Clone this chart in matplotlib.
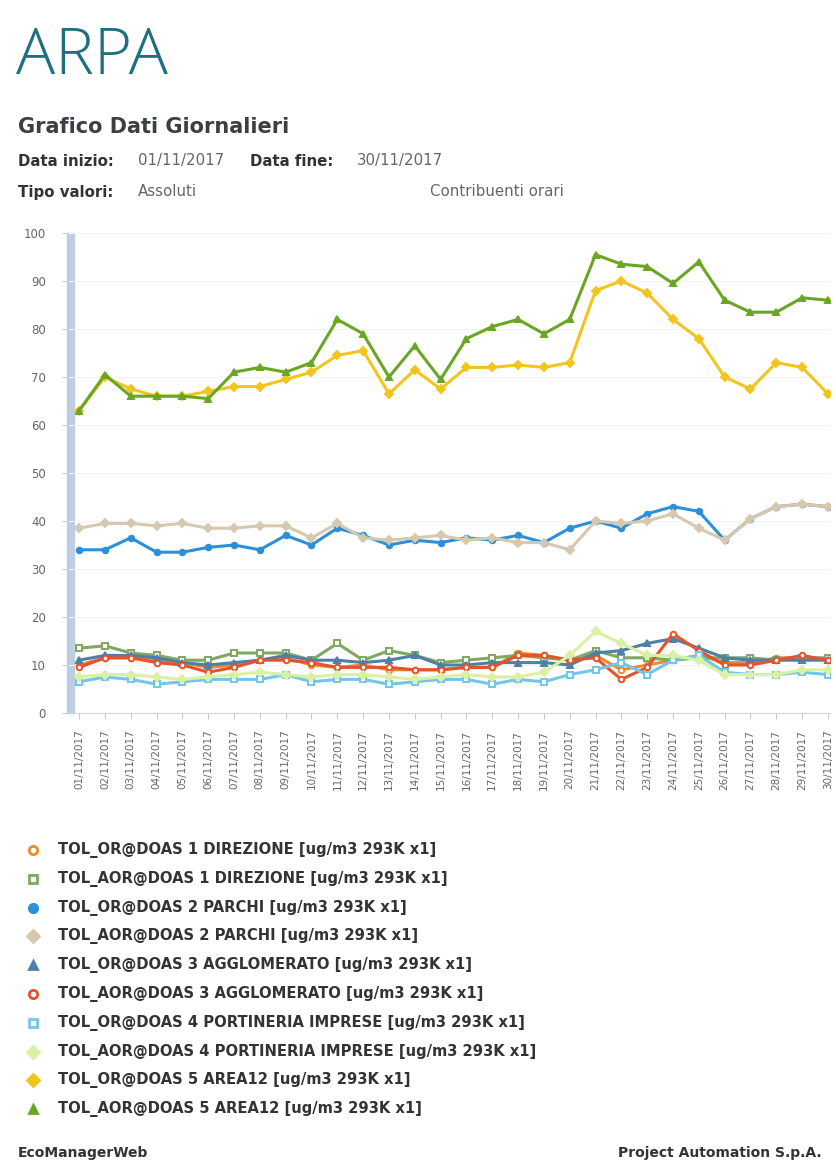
import matplotlib
matplotlib.use("Agg")
import matplotlib.pyplot as plt
from matplotlib.patches import Rectangle

##############################################################################
# Daily values (ug/m3), 01/11/2017 .. 30/11/2017
days = ["%02d/11/2017" % d for d in range(1, 31)]

or_doas1 = [10, 11.5, 11.5, 11, 10.5, 9.5, 10, 11, 11.5, 10, 9.5, 10, 9, 9, 9,
            9.5, 9.5, 12.5, 12, 11, 12, 9, 10, 11, 12, 10.5, 10.5, 11.5, 11.5, 11]
aor_doas1 = [13.5, 14, 12.5, 12, 11, 11, 12.5, 12.5, 12.5, 11, 14.5, 11, 13, 12, 10.5,
             11, 11.5, 12, 11.5, 11, 13, 11.5, 11.5, 11, 11.5, 11.5, 11.5, 11, 11.5, 11.5]
or_doas2 = [34, 34, 36.5, 33.5, 33.5, 34.5, 35, 34, 37, 35, 38.5, 37, 35, 36, 35.5,
            36.5, 36, 37, 35.5, 38.5, 40, 38.5, 41.5, 43, 42, 36, 40.5, 43, 43.5, 43]
aor_doas2 = [38.5, 39.5, 39.5, 39, 39.5, 38.5, 38.5, 39, 39, 36.5, 39.5, 36.5, 36, 36.5, 37,
             36, 36.5, 35.5, 35.5, 34, 40, 39.5, 40, 41.5, 38.5, 36, 40.5, 43, 43.5, 43]
or_doas3 = [11, 12, 12, 11.5, 10.5, 10, 10.5, 11, 12, 11, 11, 10.5, 11, 12, 10,
            10, 10.5, 10.5, 10.5, 10, 12.5, 13, 14.5, 15.5, 13.5, 11.5, 11, 11, 11, 11]
aor_doas3 = [9.5, 11.5, 11.5, 10.5, 10, 8.5, 9.5, 11, 11, 10.5, 9.5, 9.5, 9.5, 9, 9,
             9.5, 9.5, 12, 12, 11, 11.5, 7, 9.5, 16.5, 13, 10, 10, 11, 12, 11]
or_doas4 = [6.5, 7.5, 7, 6, 6.5, 7, 7, 7, 8, 6.5, 7, 7, 6, 6.5, 7,
            7, 6, 7, 6.5, 8, 9, 10.5, 8, 11, 12, 8.5, 8, 8, 8.5, 8]
aor_doas4 = [7.5, 8, 8, 7.5, 7, 7.5, 8, 8.5, 8, 7.5, 8, 8, 7.5, 7, 7.5,
             8, 7.5, 7.5, 8.5, 12, 17, 14.5, 12, 12, 11, 8, 8, 8, 9, 9]
or_doas5 = [63, 70, 67.5, 66, 66, 67, 68, 68, 69.5, 71, 74.5, 75.5, 66.5, 71.5, 67.5,
            72, 72, 72.5, 72, 73, 88, 90, 87.5, 82, 78, 70, 67.5, 73, 72, 66.5]
aor_doas5 = [63, 70.5, 66, 66, 66, 65.5, 71, 72, 71, 73, 82, 79, 70, 76.5, 69.5,
             78, 80.5, 82, 79, 82, 95.5, 93.5, 93, 89.5, 94, 86, 83.5, 83.5, 86.5, 86]

labels = [
    "TOL_OR@DOAS 1 DIREZIONE [ug/m3 293K x1]",
    "TOL_AOR@DOAS 1 DIREZIONE [ug/m3 293K x1]",
    "TOL_OR@DOAS 2 PARCHI [ug/m3 293K x1]",
    "TOL_AOR@DOAS 2 PARCHI [ug/m3 293K x1]",
    "TOL_OR@DOAS 3 AGGLOMERATO [ug/m3 293K x1]",
    "TOL_AOR@DOAS 3 AGGLOMERATO [ug/m3 293K x1]",
    "TOL_OR@DOAS 4 PORTINERIA IMPRESE [ug/m3 293K x1]",
    "TOL_AOR@DOAS 4 PORTINERIA IMPRESE [ug/m3 293K x1]",
    "TOL_OR@DOAS 5 AREA12 [ug/m3 293K x1]",
    "TOL_AOR@DOAS 5 AREA12 [ug/m3 293K x1]",
]
series = [or_doas1, aor_doas1, or_doas2, aor_doas2, or_doas3,
          aor_doas3, or_doas4, aor_doas4, or_doas5, aor_doas5]

colors = ["#ec8a30", "#7fa860", "#2c90d8", "#d6c8ae", "#4c80aa",
          "#e4532e", "#72c6ea", "#daf0a2", "#f2c51e", "#6aa624"]
markers = ["o", "s", "o", "D", "^", "o", "s", "D", "D", "^"]
hollow = [True, True, False, False, False, True, True, False, False, False]

##############################################################################
fig = plt.figure(figsize=(8.37, 11.66), dpi=100)
fig.patch.set_facecolor("white")

W, H = 837.0, 1166.0

def ftext(x, y, s, **kw):
    fig.text(x / W, 1 - y / H, s, **kw)

# header
ftext(16, 57, "ARPA", fontsize=47, color="#1f6f7f", family="Open Sans",
      fontweight="light", va="center")
ftext(18, 127, "Grafico Dati Giornalieri", fontsize=15, fontweight="bold",
      color="#3a3f44", va="center")
hs = 10.8
ftext(18, 161, "Data inizio:", fontsize=hs, fontweight="bold", color="#333", va="center")
ftext(138, 161, "01/11/2017", fontsize=hs, color="#666", va="center")
ftext(250, 161, "Data fine:", fontsize=hs, fontweight="bold", color="#333", va="center")
ftext(357, 161, "30/11/2017", fontsize=hs, color="#666", va="center")
ftext(18, 192, "Tipo valori:", fontsize=hs, fontweight="bold", color="#333", va="center")
ftext(138, 192, "Assoluti", fontsize=hs, color="#666", va="center")
ftext(430, 192, "Contribuenti orari", fontsize=hs, color="#666", va="center")

# chart
ax = fig.add_axes([68 / W, 1 - 713 / H, (830 - 68) / W, 480 / H])
x = list(range(len(days)))
for vals, c, m, h in zip(series, colors, markers, hollow):
    ax.plot(x, vals, color=c, lw=2.2, marker=m, ms=4,
            mfc="white" if h else c, mec=c, mew=1.4, zorder=3)

ax.set_xlim(-0.43, 29.08)
ax.set_ylim(0, 100)
ax.set_yticks(range(0, 101, 10))
ax.set_xticks(x)
ax.set_xticklabels(days, rotation=90, fontsize=7.5, color="#666")
ax.tick_params(axis="y", labelsize=8.5, labelcolor="#666", color="#ccc",
               length=4, pad=12)
ax.tick_params(axis="x", color="#ccc", length=4, pad=8)
ax.grid(axis="y", color="#f3f3f3", lw=0.8)
for side in ["top", "right", "left"]:
    ax.spines[side].set_visible(False)
ax.spines["bottom"].set_color("#ccd6eb")

# navigator bar at the left of the plot area
ax.add_patch(Rectangle((-0.001, 0), 0.009, 1, transform=ax.transAxes,
                       color="#bccde4", zorder=1, clip_on=False))

# legend
ly = 850
for lab, c, m, h in zip(labels, colors, markers, hollow):
    fig.lines.append(plt.Line2D([33 / W], [1 - ly / H], transform=fig.transFigure,
                                marker=m, ms=6, mfc="white" if h else c,
                                mec=c, mew=2, ls="none"))
    ftext(58, ly, lab, fontsize=10.6, fontweight="bold", color="#333", va="center")
    ly += 28.8

# footer
ftext(18, 1153, "EcoManagerWeb", fontsize=10, fontweight="bold", color="#333", va="center")
ftext(822, 1153, "Project Automation S.p.A.", fontsize=10, fontweight="bold",
      color="#333", va="center", ha="right")

fig.savefig("out.png", dpi=100)
